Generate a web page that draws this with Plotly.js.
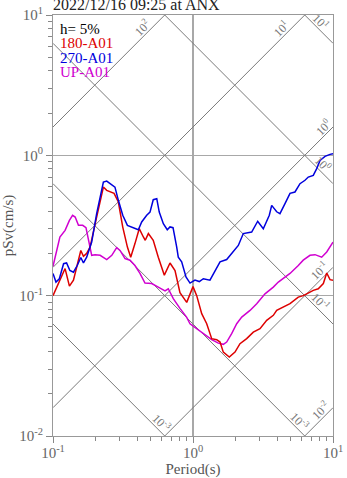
<!DOCTYPE html>
<html>
<head>
<meta charset="utf-8">
<script src="https://cdn.plot.ly/plotly-3.0.1.min.js"></script>
<style>
  html, body { margin: 0; padding: 0; background: #fff; }
  #chart { width: 347px; height: 478px; }
</style>
</head>
<body>
<div id="chart"></div>
<script>
// Pseudo-velocity response spectra, h = 5%
const periods180 = [0.100, 0.122, 0.131, 0.140, 0.158, 0.165, 0.174, 0.184, 0.205, 0.229, 0.242, 0.273, 0.293, 0.315, 0.340, 0.359, 0.385, 0.413, 0.442, 0.456, 0.480, 0.520, 0.565, 0.624, 0.685, 0.744, 0.807, 0.902, 1.00, 1.063, 1.154, 1.253, 1.360, 1.477, 1.560, 1.646, 1.816, 1.995, 2.166, 2.418, 2.696, 3.010, 3.360, 3.747, 3.961, 4.416, 4.931, 5.65, 6.13, 6.49, 7.23, 7.85, 8.53, 9.02, 9.52, 10.0];
const sv180 = [0.100, 0.156, 0.117, 0.129, 0.210, 0.191, 0.200, 0.222, 0.363, 0.594, 0.563, 0.536, 0.465, 0.308, 0.222, 0.188, 0.235, 0.300, 0.262, 0.248, 0.277, 0.248, 0.188, 0.140, 0.171, 0.151, 0.105, 0.0896, 0.116, 0.100, 0.0744, 0.0631, 0.0494, 0.0486, 0.0467, 0.0396, 0.0365, 0.0396, 0.0455, 0.0494, 0.0550, 0.0582, 0.0667, 0.0724, 0.0785, 0.0829, 0.0877, 0.0977, 0.100, 0.103, 0.109, 0.112, 0.122, 0.145, 0.130, 0.129];

const periods270 = [0.100, 0.105, 0.111, 0.119, 0.125, 0.132, 0.140, 0.149, 0.158, 0.165, 0.174, 0.189, 0.205, 0.229, 0.242, 0.263, 0.277, 0.293, 0.315, 0.340, 0.375, 0.407, 0.430, 0.467, 0.493, 0.520, 0.551, 0.574, 0.614, 0.655, 0.685, 0.720, 0.765, 0.785, 0.830, 0.891, 0.952, 1.033, 1.109, 1.185, 1.322, 1.436, 1.560, 1.740, 1.940, 2.107, 2.287, 2.625, 2.898, 3.178, 3.508, 3.648, 3.961, 4.18, 4.54, 4.93, 5.35, 5.81, 6.31, 6.66, 7.23, 7.65, 8.08, 8.77, 9.52, 10.0];
const sv270 = [0.144, 0.125, 0.132, 0.169, 0.171, 0.151, 0.147, 0.164, 0.187, 0.171, 0.188, 0.241, 0.384, 0.645, 0.656, 0.611, 0.594, 0.478, 0.374, 0.317, 0.305, 0.295, 0.335, 0.374, 0.394, 0.483, 0.491, 0.394, 0.326, 0.295, 0.309, 0.305, 0.222, 0.188, 0.174, 0.136, 0.123, 0.129, 0.126, 0.132, 0.129, 0.151, 0.174, 0.181, 0.205, 0.228, 0.277, 0.284, 0.339, 0.300, 0.374, 0.440, 0.396, 0.384, 0.453, 0.536, 0.548, 0.628, 0.664, 0.700, 0.720, 0.804, 0.921, 0.984, 1.016, 1.028];

const periodsUP = [0.100, 0.106, 0.112, 0.122, 0.131, 0.138, 0.144, 0.152, 0.163, 0.172, 0.179, 0.189, 0.200, 0.217, 0.242, 0.263, 0.285, 0.301, 0.327, 0.355, 0.385, 0.418, 0.454, 0.507, 0.565, 0.631, 0.666, 0.723, 0.807, 0.902, 0.952, 1.063, 1.185, 1.360, 1.516, 1.646, 1.740, 1.889, 2.052, 2.229, 2.554, 2.851, 3.268, 3.747, 4.07, 4.54, 4.93, 5.65, 6.13, 6.85, 7.44, 8.30, 9.02, 10.0];
const svUP = [0.162, 0.210, 0.262, 0.292, 0.344, 0.374, 0.363, 0.317, 0.317, 0.305, 0.248, 0.194, 0.196, 0.194, 0.181, 0.194, 0.220, 0.210, 0.184, 0.179, 0.164, 0.144, 0.123, 0.122, 0.115, 0.108, 0.112, 0.0952, 0.0812, 0.0700, 0.0631, 0.0582, 0.0536, 0.0486, 0.0459, 0.0450, 0.0467, 0.0536, 0.0631, 0.0703, 0.0785, 0.0877, 0.103, 0.115, 0.125, 0.136, 0.144, 0.164, 0.179, 0.194, 0.196, 0.188, 0.205, 0.241];

// tripartite guide lines: displacement (cm) and acceleration (cm/s^2)
const dispLevels = [10, 1, 0.1, 0.01, 0.001];
const dispLabels = ['10<sup>1</sup>', '10<sup>0</sup>', '10<sup>-1</sup>', '10<sup>-3</sup>', '10<sup>-3</sup>'];
const accLevels = [100, 10, 1, 0.1, 0.01];
const accLabels = ['10<sup>2</sup>', '10<sup>1</sup>', '10<sup>0</sup>', '10<sup>-1</sup>', '10<sup>-2</sup>'];

const xTickVals = [0.1, 1, 10];
const xTickText = ['10<sup>-1</sup>', '10<sup>0</sup>', '10<sup>1</sup>'];
const yTickVals = [0.01, 0.1, 1, 10];
const yTickText = ['10<sup>-2</sup>', '10<sup>-1</sup>', '10<sup>0</sup>', '10<sup>1</sup>'];

const legendLines = ['h= 5%', '180-A01', '270-A01', 'UP-A01'];
const legendColors = ['#000000', '#dd0000', '#0000dd', '#d000d0'];

const TWO_PI = 2 * Math.PI;
const tEnds = [0.1, 10];
const svFromDisp = (d, t) => TWO_PI * d / t;
const svFromAcc = (a, t) => a * t / TWO_PI;

function minorVals(lo, hi) {
  const out = [];
  for (let e = lo; e < hi; e++) {
    for (let m = 2; m <= 9; m++) out.push(m * Math.pow(10, e));
  }
  return out;
}

const guideStyle = { color: '#7a7a7a', width: 1 };
const traces = [];
dispLevels.forEach(d => traces.push({
  x: tEnds, y: tEnds.map(t => svFromDisp(d, t)),
  mode: 'lines', line: guideStyle, hoverinfo: 'skip', showlegend: false
}));
accLevels.forEach(a => traces.push({
  x: tEnds, y: tEnds.map(t => svFromAcc(a, t)),
  mode: 'lines', line: guideStyle, hoverinfo: 'skip', showlegend: false
}));

traces.push({ x: periodsUP, y: svUP, mode: 'lines', line: { color: legendColors[3], width: 1.5 }, showlegend: false });
traces.push({ x: periods180, y: sv180, mode: 'lines', line: { color: legendColors[1], width: 1.5 }, showlegend: false });
traces.push({ x: periods270, y: sv270, mode: 'lines', line: { color: legendColors[2], width: 1.5 }, showlegend: false });

// where each guide label sits along its line
const dispLabelT = [7.54, 7.78, 7.50, 5.35, 0.547];
const accLabelT = [0.473, 4.64, 9.21, 8.70, 8.81];

const annotations = [];
const lblFont = { family: 'Liberation Serif, serif', size: 12, color: '#777777' };
dispLevels.forEach((d, i) => {
  const t = dispLabelT[i];
  annotations.push({
    x: Math.log10(t), y: Math.log10(svFromDisp(d, t)), xref: 'x', yref: 'y',
    text: dispLabels[i], showarrow: false, textangle: 45, font: lblFont,
    xshift: 5, yshift: 5
  });
});
accLevels.forEach((a, i) => {
  const t = accLabelT[i];
  annotations.push({
    x: Math.log10(t), y: Math.log10(svFromAcc(a, t)), xref: 'x', yref: 'y',
    text: accLabels[i], showarrow: false, textangle: -45, font: lblFont,
    xshift: -5, yshift: 5
  });
});
legendLines.forEach((txt, i) => {
  annotations.push({
    x: 0.018, y: 0.967 - i * 0.0345, xref: 'paper', yref: 'paper',
    xanchor: 'left', yanchor: 'middle', text: txt, showarrow: false,
    font: { family: 'Liberation Serif, serif', size: 15, color: legendColors[i] }
  });
});

const axisCommon = {
  type: 'log',
  showline: true, mirror: true, linecolor: '#999999', linewidth: 1,
  showgrid: true, gridcolor: '#a8a8a8', gridwidth: 1.5,
  ticks: 'outside', ticklen: 6, tickcolor: '#888888', tickmode: 'array',
  tickfont: { family: 'Liberation Serif, serif', size: 15, color: '#666666' },
  zeroline: false
};

Plotly.newPlot('chart', traces, {
  width: 347, height: 478,
  margin: { l: 53, r: 14, t: 15, b: 42 },
  paper_bgcolor: '#ffffff', plot_bgcolor: '#ffffff',
  font: { family: 'Liberation Serif, serif', color: '#555555' },
  title: {
    text: '2022/12/16 09:25 at ANX', xref: 'paper', x: 0, xanchor: 'left',
    yref: 'container', y: 0.99, yanchor: 'middle',
    font: { family: 'Liberation Serif, serif', size: 16, color: '#222222' }
  },
  xaxis: Object.assign({}, axisCommon, {
    range: [-1, 1], tickvals: xTickVals, ticktext: xTickText, ticklabelstandoff: -3,
    minor: { tickmode: 'array', tickvals: minorVals(-1, 1), ticks: 'outside', ticklen: 4, tickcolor: '#888888', showgrid: false },
    title: { text: 'Period(s)', standoff: 6, font: { family: 'Liberation Serif, serif', size: 15, color: '#555555' } }
  }),
  yaxis: Object.assign({}, axisCommon, {
    range: [-2, 1], tickvals: yTickVals, ticktext: yTickText,
    minor: { tickmode: 'array', tickvals: minorVals(-2, 1), ticks: 'outside', ticklen: 4, tickcolor: '#888888', showgrid: false },
    title: { text: 'pSv(cm/s)', standoff: 4, font: { family: 'Liberation Serif, serif', size: 15, color: '#555555' } }
  }),
  annotations: annotations,
  showlegend: false
}, { displayModeBar: false, staticPlot: true });
</script>
</body>
</html>
